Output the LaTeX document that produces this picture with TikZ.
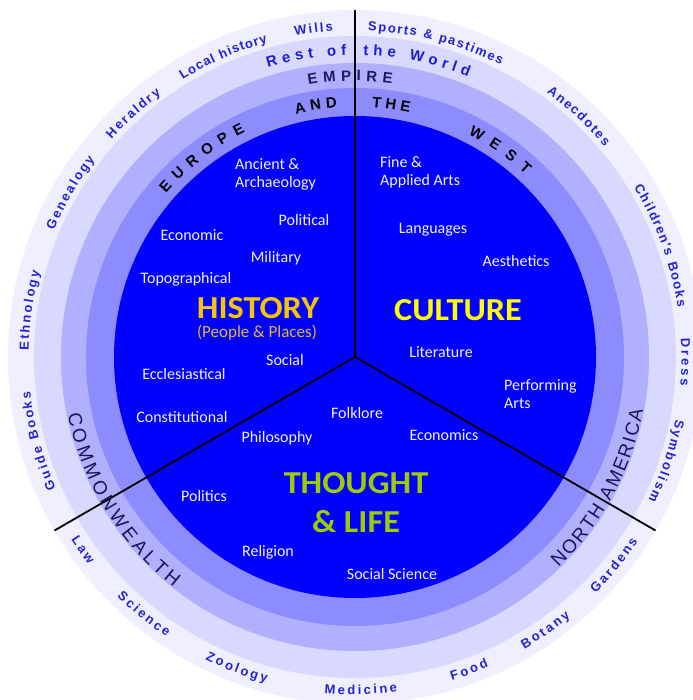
\documentclass[tikz,border=0pt]{standalone}
\usepackage{fontspec}
\setmainfont{Carlito}
\newfontfamily\arialfam{Liberation Sans}
\newfontfamily\innerfam{Carlito}

\definecolor{ring1}{HTML}{EFEFFF}
\definecolor{ring2}{HTML}{D9D9FF}
\definecolor{ring3}{HTML}{B0B0FF}
\definecolor{ring4}{HTML}{8C8CFF}
\definecolor{core}{HTML}{0000FF}
\definecolor{outerblue}{HTML}{2323D8}
\definecolor{restblue}{HTML}{1C1CE0}
\definecolor{empirenavy}{HTML}{1A1A60}
\definecolor{cwnavy}{HTML}{16165A}
\definecolor{innerwhite}{HTML}{F2F2FF}
\definecolor{histgold}{HTML}{F5C500}
\definecolor{ppgold}{HTML}{E3B43C}
\definecolor{cultyel}{HTML}{FFFF00}
\definecolor{tlgreen}{HTML}{9CCC00}

\newcommand\fOuter{\arialfam\bfseries\fontsize{13}{13}\selectfont}
\newcommand\fRing{\arialfam\bfseries\fontsize{15}{15}\selectfont}
\newcommand\fRingReg{\arialfam\fontsize{19}{19}\selectfont}
\newcommand\fInner{\innerfam\fontsize{16}{18}\selectfont}
\newcommand\fBig{\innerfam\bfseries\fontsize{32}{39}\selectfont}
\newcommand\fPP{\innerfam\fontsize{17}{17}\selectfont}

\ExplSyntaxOn
\box_new:N \l__arc_box
\dim_new:N \l__arc_total_dim
\fp_new:N \l__arc_ang_fp
\fp_new:N \l__arc_mid_fp
\fp_new:N \l__arc_w_fp
\tl_new:N \l__arc_x_tl
\tl_new:N \l__arc_y_tl
\tl_new:N \l__arc_r_tl
\cs_new_protected:Npn \__arc_restorefont:
  {
    \cs_if_exist:cT { pgf@selectfontorig }
      { \cs_set_eq:Nc \selectfont { pgf@selectfontorig } }
  }
\cs_new_protected:Npn \__arc_measure:nn #1 #2
  {
    \str_if_eq:nnTF {#2} {~}
      { \hbox_set:Nn \l__arc_box { \__arc_restorefont: #1 \skip_horizontal:n { \fontdimen 2 \font } } }
      { \hbox_set:Nn \l__arc_box { \__arc_restorefont: #1 #2 } }
  }
% #1 font, #2 colour, #3 baseline radius, #4 centre angle, #5 dir (1 cw / -1 ccw), #6 spacing, #7 text
\NewDocumentCommand \arctext { m m m m m m m }
  {
    \dim_zero:N \l__arc_total_dim
    \str_map_inline:nn {#7}
      {
        \__arc_measure:nn {#1} {##1}
        \dim_add:Nn \l__arc_total_dim { \box_wd:N \l__arc_box + #6 pt }
      }
    \dim_sub:Nn \l__arc_total_dim { #6 pt }
    \fp_set:Nn \l__arc_ang_fp
      { #4 + (#5) * ( \dim_to_fp:n { \l__arc_total_dim } / 2 ) / (#3) * 180 / pi }
    \str_map_inline:nn {#7}
      {
        \__arc_measure:nn {#1} {##1}
        \fp_set:Nn \l__arc_w_fp { \dim_to_fp:n { \box_wd:N \l__arc_box } }
        \fp_set:Nn \l__arc_mid_fp
          { \l__arc_ang_fp - (#5) * ( \l__arc_w_fp / 2 ) / (#3) * 180 / pi }
        \str_if_eq:nnF {##1} {~}
          {
            \tl_set:Nx \l__arc_x_tl { \fp_eval:n { round ( (#3) * cosd ( \l__arc_mid_fp ) , 3 ) } }
            \tl_set:Nx \l__arc_y_tl { \fp_eval:n { round ( (#3) * sind ( \l__arc_mid_fp ) , 3 ) } }
            \tl_set:Nx \l__arc_r_tl { \fp_eval:n { round ( \l__arc_mid_fp - (#5) * 90 , 3 ) } }
            \node [ text = #2 , font = #1 , inner~sep = 0pt , anchor = base ,
                    rotate = \l__arc_r_tl ]
              at ( \l__arc_x_tl , \l__arc_y_tl ) { ##1 } ;
          }
        \fp_set:Nn \l__arc_ang_fp
          { \l__arc_ang_fp - (#5) * ( \l__arc_w_fp + #6 ) / (#3) * 180 / pi }
      }
  }
\ExplSyntaxOff

\begin{document}
\begin{tikzpicture}[x=1pt,y=1pt,
  inner/.style={text=innerwhite, font=\fInner, inner sep=0pt},
  biglabel/.style={font=\fBig, inner sep=0pt, xscale=1.07, align=center},
  divider/.style={line width=1.8pt, black}]
\useasboundingbox (-355,-343) rectangle (337,357);
\fill[white] (-355,-343) rectangle (337,357);

% rings
\fill[ring1] (0,0) circle[radius=347];
\fill[ring2] (0,0) circle[radius=321];
\fill[ring3] (0,0) circle[radius=294];
\fill[ring4] (0,0) circle[radius=269];
\fill[core]  (0,0) circle[radius=241];

% outer ring topics
\arctext{\fOuter}{outerblue}{326.5}{97.2}{1}{2}{Wills}
\arctext{\fOuter}{outerblue}{326.5}{113.7}{1}{1}{Local history}
\arctext{\fOuter}{outerblue}{326.5}{132.3}{1}{2}{Heraldry}
\arctext{\fOuter}{outerblue}{326.5}{150}{1}{2}{Genealogy}
\arctext{\fOuter}{outerblue}{326.5}{171.8}{1}{2}{Ethnology}
\arctext{\fOuter}{outerblue}{326.5}{194.9}{1}{2}{Guide Books}
\arctext{\fOuter}{outerblue}{326.5}{75.6}{1}{1.5}{Sports & pastimes}
\arctext{\fOuter}{outerblue}{326.5}{47.1}{1}{1.6}{Anecdotes}
\arctext{\fOuter}{outerblue}{326.5}{20}{1}{1.5}{Children's Books}
\arctext{\fOuter}{outerblue}{326.5}{-0.9}{1}{3}{Dress}
\arctext{\fOuter}{outerblue}{326.5}{-18.5}{1}{2}{Symbolism}
\arctext{\fOuter}{outerblue}{337.5}{215.3}{-1}{2.5}{Law}
\arctext{\fOuter}{outerblue}{337.5}{230.6}{-1}{2.5}{Science}
\arctext{\fOuter}{outerblue}{337.5}{249.2}{-1}{2.5}{Zoology}
\arctext{\fOuter}{outerblue}{337.5}{271}{-1}{2.5}{Medicine}
\arctext{\fOuter}{outerblue}{337.5}{290}{-1}{2.5}{Food}
\arctext{\fOuter}{outerblue}{337.5}{304.9}{-1}{2.5}{Botany}
\arctext{\fOuter}{outerblue}{337.5}{321.2}{-1}{2.5}{Gardens}

% ring titles
\arctext{\fRing}{restblue}{302}{99.2}{1}{4.8}{Rest of}
\arctext{\fRing}{restblue}{302}{78.2}{1}{4.8}{the World}
\arctext{\fRing}{empirenavy}{276}{91}{1}{5.3}{EMPIRE}
\arctext{\fRing}{black}{250}{127.6}{1}{7.5}{EUROPE}
\arctext{\fRing}{black}{250}{98.9}{1}{4.7}{AND}
\arctext{\fRing}{black}{250}{81.8}{1}{4}{THE}
\arctext{\fRing}{black}{250}{55}{1}{9}{WEST}
\arctext{\fRingReg}{cwnavy}{293}{211.5}{-1}{3.6}{COMMONWEALTH}
\arctext{\fRingReg}{cwnavy}{293}{331.8}{-1}{1.9}{NORTH AMERICA}

% inner topics: history
\node[inner, anchor=west, align=left] (ancient) at (-120,183) {Ancient \&\\Archaeology};
\node[inner] (political) at (-51,137) {Political};
\node[inner] (economic) at (-163,122) {Economic};
\node[inner] (military) at (-79,99) {Military};
\node[inner] (topo) at (-169,78) {Topographical};
\node[biglabel, text=histgold] (history) at (-97,49) {HISTORY};
\node[font=\fPP, text=ppgold, inner sep=0pt] (people) at (-98,24) {(People \& Places)};
\node[inner] (social) at (-70,-3) {Social};
\node[inner] (eccl) at (-171,-17) {Ecclesiastical};
\node[inner] (const) at (-173,-60) {Constitutional};
% culture
\node[inner, anchor=west, align=left] (fine) at (25,185) {Fine \&\\Applied Arts};
\node[inner] (lang) at (78,127) {Languages};
\node[inner] (aest) at (161,96) {Aesthetics};
\node[biglabel, text=cultyel] (culture) at (103,47) {CULTURE};
\node[inner] (lit) at (86,5) {Literature};
\node[inner, anchor=west, align=left] (perf) at (149,-37) {Performing\\Arts};
% thought & life
\node[inner] (philo) at (-78,-81) {Philosophy};
\node[inner] (folk) at (2,-56) {Folklore};
\node[inner] (econs) at (89,-78) {Economics};
\node[inner] (politics) at (-151,-139) {Politics};
\node[biglabel, text=tlgreen] (thought) at (1,-145.5) {THOUGHT\\\& LIFE};
\node[inner] (religion) at (-87,-195) {Religion};
\node[inner] (socsci) at (37,-217) {Social Science};

% dividers
\coordinate (c) at (0,0);
\coordinate (etop) at (90:347);
\coordinate (eleft) at (210:347);
\coordinate (eright) at (330:347);
\draw[divider] (c) -- (etop);
\draw[divider] (c) -- (eleft);
\draw[divider] (c) -- (eright);
\end{tikzpicture}
\end{document}
